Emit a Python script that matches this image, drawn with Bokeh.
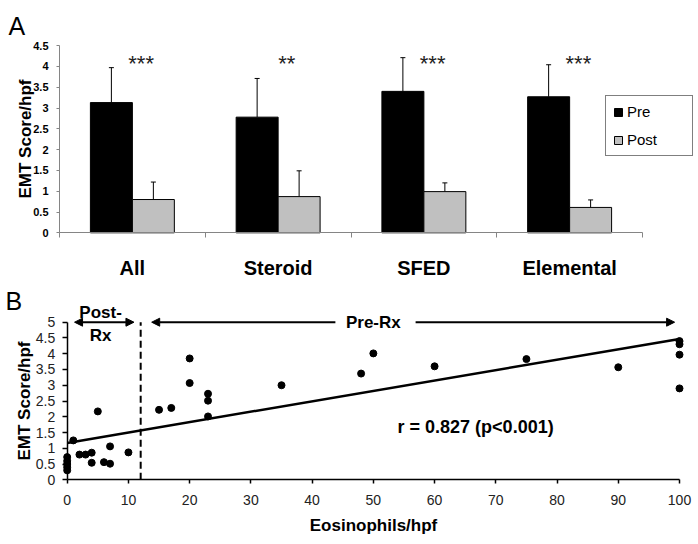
import numpy as np
from bokeh.plotting import figure
from bokeh.models import (ColumnDataSource, Range1d, LinearAxis, FixedTicker, SingleIntervalTicker,
                          NumeralTickFormatter, Whisker, TeeHead, Arrow, NormalHead, Label,
                          Legend, LegendItem)
from bokeh.layouts import column
from bokeh.embed import file_html
from bokeh.resources import INLINE
from bokeh.core.properties import value

FONT = "Liberation Sans"

# ---------------- data: panel A ----------------
categories = ["All", "Steroid", "SFED", "Elemental"]
pre_mean = [3.13, 2.78, 3.40, 3.27]
pre_err = [0.84, 0.93, 0.81, 0.77]
post_mean = [0.80, 0.87, 0.99, 0.61]
post_err = [0.42, 0.62, 0.21, 0.18]
significance = ["***", "**", "***", "***"]
series_names = ["Pre", "Post"]

# ---------------- data: panel B ----------------
eosinophils = [0, 0, 0, 0, 0, 1, 2, 3, 4, 4, 5, 6, 7, 7, 10, 15, 17, 20, 20, 23, 23, 23,
               35, 48, 50, 60, 75, 90, 100, 100, 100, 100]
emt_score = [0.72, 0.60, 0.50, 0.40, 0.30, 1.25, 0.80, 0.80, 0.86, 0.54, 2.17, 0.56, 1.06, 0.51,
             0.87, 2.22, 2.28, 3.85, 3.07, 2.73, 2.51, 2.01, 3.00, 3.37, 4.01, 3.60, 3.83, 3.57,
             4.40, 4.30, 3.97, 2.90]
fit_intercept = 1.17
fit_slope = 0.033
cutoff = 12
r_text = "r = 0.827 (p<0.001)"

W = 698

# ================= Panel A =================
HA = 284
BAND = 145.75      # px per category
A_X0 = 59          # px of x = 0
A_Y0 = 232.3       # px of y = 0 (from top)
A_PPU = 41.6       # px per unit
xa = Range1d(-A_X0 / BAND, (W - A_X0) / BAND)
ya = Range1d(-(HA - A_Y0) / A_PPU, A_Y0 / A_PPU)

pA = figure(width=W, height=HA, x_range=xa, y_range=ya, x_axis_type=None, y_axis_type=None,
            output_backend="svg", toolbar_location=None, min_border=0, outline_line_color=None)

n = len(categories)
centers = np.arange(n) + 0.5
bw = 0.288
srcA = ColumnDataSource(dict(
    cat=categories,
    pre_x=centers - bw / 2, post_x=centers + bw / 2,
    pre=pre_mean, post=post_mean,
    pre_hi=np.array(pre_mean) + np.array(pre_err),
    post_hi=np.array(post_mean) + np.array(post_err),
    sig=significance, sig_x=centers + 0.06,
))

r_pre = pA.vbar(x="pre_x", top="pre", bottom=0, width=bw, fill_color="black",
                line_color="black", source=srcA)
r_post = pA.vbar(x="post_x", top="post", bottom=0, width=bw, fill_color="#c0c0c0",
                 line_color="black", source=srcA)

for base, lo, hi in [("pre_x", "pre", "pre_hi"), ("post_x", "post", "post_hi")]:
    pA.add_layout(Whisker(source=srcA, base=base, lower=lo, upper=hi, dimension="height",
                          upper_head=TeeHead(size=5, line_color="black", line_width=1),
                          lower_head=None, line_color="black", line_width=1))

pA.text(x="sig_x", y=4.06, text="sig", source=srcA, text_font=value(FONT),
        text_font_size="22px", text_align="center", text_baseline="alphabetic",
        text_color="#222222")

gray = "#858585"
xaxA = LinearAxis(fixed_location=0, bounds=(0, n),
                  ticker=FixedTicker(ticks=list(centers), minor_ticks=list(range(n + 1))),
                  major_label_overrides={float(c): lab for c, lab in zip(centers, categories)})
xaxA.axis_line_color = gray
xaxA.major_tick_out = 0
xaxA.major_tick_in = 0
xaxA.minor_tick_out = 5
xaxA.minor_tick_in = 0
xaxA.minor_tick_line_color = gray
xaxA.major_label_standoff = 19
xaxA.major_label_text_font = FONT
xaxA.major_label_text_font_size = "20px"
xaxA.major_label_text_font_style = "bold"
xaxA.major_label_text_color = "black"
pA.add_layout(xaxA, "below")

yaxA = LinearAxis(fixed_location=0, bounds=(0, 4.5),
                  ticker=SingleIntervalTicker(interval=0.5, num_minor_ticks=0),
                  formatter=NumeralTickFormatter(format="0.[0]"),
                  axis_label="EMT Score/hpf")
yaxA.axis_line_color = gray
yaxA.major_tick_line_color = gray
yaxA.major_tick_out = 3
yaxA.major_tick_in = 0
yaxA.minor_tick_line_color = None
yaxA.major_label_standoff = 8
yaxA.major_label_text_font = FONT
yaxA.major_label_text_font_size = "11px"
yaxA.major_label_text_font_style = "bold"
yaxA.major_label_text_color = "black"
yaxA.axis_label_text_font = FONT
yaxA.axis_label_text_font_size = "17px"
yaxA.axis_label_text_font_style = "bold"
yaxA.axis_label_text_color = "black"
yaxA.axis_label_standoff = -5
pA.add_layout(yaxA, "left")

legend = Legend(items=[LegendItem(label=series_names[0], renderers=[r_pre]),
                       LegendItem(label=series_names[1], renderers=[r_post])],
                location=(605, HA - 156), orientation="vertical")
legend.padding = 7
legend.spacing = 11
legend.glyph_width = 10
legend.glyph_height = 10
legend.label_standoff = 4
legend.label_width = 58
legend.label_height = 17
legend.label_text_font = FONT
legend.label_text_font_size = "15px"
legend.label_text_color = "black"
legend.border_line_color = "black"
legend.border_line_width = 1
legend.background_fill_alpha = 1
pA.add_layout(legend)

pA.add_layout(Label(x=xa.start + 8 / BAND, y=ya.end - 25 / A_PPU, text="A", text_font=FONT,
                    text_font_size="25px", text_baseline="alphabetic", text_align="left",
                    text_color="black"))

# ================= Panel B =================
HB = 544 - HA
B_X0 = 66.7
B_XPPU = 6.123
B_Y0 = 479.3 - HA
B_YPPU = 31.52
xb = Range1d(-B_X0 / B_XPPU, (W - B_X0) / B_XPPU)
yb = Range1d(-(HB - B_Y0) / B_YPPU, B_Y0 / B_YPPU)
y_axis_max = 5
x_axis_max = 100

pB = figure(width=W, height=HB, x_range=xb, y_range=yb, x_axis_type=None, y_axis_type=None,
            output_backend="svg", toolbar_location=None, min_border=0, outline_line_color=None)

srcB = ColumnDataSource(dict(eos=eosinophils, emt=emt_score))

fit_x = np.array([min(eosinophils), max(eosinophils)], dtype=float)
fit_y = fit_intercept + fit_slope * fit_x
pB.line(fit_x, fit_y, line_color="black", line_width=2.5)

pB.segment(x0=[cutoff], y0=[0], x1=[cutoff], y1=[y_axis_max], line_color="black",
           line_width=2, line_dash="7 4")

pB.scatter(x="eos", y="emt", source=srcB, size=7, fill_color="black", line_color="black")

xaxB = LinearAxis(fixed_location=0, bounds=(0, x_axis_max),
                  ticker=SingleIntervalTicker(interval=10, num_minor_ticks=0),
                  axis_label="Eosinophils/hpf")
yaxB = LinearAxis(fixed_location=0, bounds=(0, y_axis_max),
                  ticker=SingleIntervalTicker(interval=0.5, num_minor_ticks=0),
                  formatter=NumeralTickFormatter(format="0.[0]"),
                  axis_label="EMT Score/hpf")
for ax in (xaxB, yaxB):
    ax.axis_line_color = "black"
    ax.axis_line_width = 1.5
    ax.major_tick_line_color = "black"
    ax.major_tick_line_width = 1.5
    ax.major_tick_in = 0
    ax.minor_tick_line_color = None
    ax.major_label_text_font = FONT
    ax.major_label_text_font_size = "14px"
    ax.major_label_text_color = "#222222"
    ax.axis_label_text_font = FONT
    ax.axis_label_text_font_size = "17px"
    ax.axis_label_text_font_style = "bold"
    ax.axis_label_text_color = "black"
xaxB.major_tick_out = 4
xaxB.major_label_standoff = 11
xaxB.axis_label_standoff = 8
yaxB.major_tick_out = 5
yaxB.major_label_standoff = 7
yaxB.axis_label_standoff = -1
pB.add_layout(xaxB, "below")
pB.add_layout(yaxB, "left")

arrow_y = 5.0
post_rx_span = (1.2, 10.9)
pre_rx_left = (43.8, 13.8)
pre_rx_right = (56.9, 99.2)

def head():
    return NormalHead(size=8, fill_color="black", line_color="black", line_width=1)

pB.add_layout(Arrow(start=head(), end=head(), x_start=post_rx_span[0], y_start=arrow_y,
                    x_end=post_rx_span[1], y_end=arrow_y, line_width=2, line_color="black"))
pB.add_layout(Arrow(end=head(), x_start=pre_rx_left[0], y_start=arrow_y,
                    x_end=pre_rx_left[1], y_end=arrow_y, line_width=2, line_color="black"))
pB.add_layout(Arrow(end=head(), x_start=pre_rx_right[0], y_start=arrow_y,
                    x_end=pre_rx_right[1], y_end=arrow_y, line_width=2, line_color="black"))

for txt, x, y, size in [("Post-", 5.45, 5.31, "17px"), ("Rx", 5.45, 4.58, "17px"),
                        ("Pre-Rx", 50.0, 5.0, "17px"), (r_text, 66.7, 1.67, "18px")]:
    pB.add_layout(Label(x=x, y=y, text=txt, text_font=FONT, text_font_size=size,
                        text_font_style="bold", text_align="center", text_baseline="middle",
                        text_color="black", background_fill_color=None))

pB.add_layout(Label(x=xb.start + 5 / B_XPPU, y=yb.end - (300 - HA) / B_YPPU, text="B",
                    text_font=FONT, text_font_size="25px", text_baseline="alphabetic",
                    text_align="left", text_color="black"))

layout = column(pA, pB, spacing=0)
open("out.html", "w").write(file_html(layout, INLINE))
